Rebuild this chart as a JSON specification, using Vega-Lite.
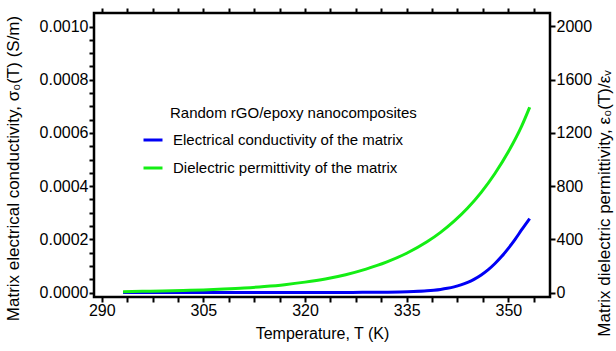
{
  "$schema": "https://vega.github.io/schema/vega-lite/v6.json",
  "width": 456,
  "height": 284,
  "autosize": {"type": "none"},
  "padding": {"left": 94, "right": 66, "top": 13, "bottom": 54},
  "background": "white",
  "config": {
    "font": "Liberation Sans",
    "view": {"stroke": "black", "strokeWidth": 2.5},
    "axis": {
      "domain": false,
      "grid": false,
      "ticks": true,
      "tickSize": 5,
      "tickColor": "black",
      "tickWidth": 2,
      "labelColor": "black",
      "labelFont": "Liberation Sans",
      "labelFontSize": 16,
      "titleFont": "Liberation Sans",
      "titleFontSize": 16,
      "titleFontWeight": "normal",
      "titleColor": "black",
      "labelOverlap": false,
      "labelFlush": false
    },
    "legend": {
      "orient": "none",
      "legendX": 76,
      "legendY": 93,
      "padding": 0,
      "symbolType": "stroke",
      "symbolSize": 361,
      "symbolStrokeWidth": 3,
      "symbolOffset": -28,
      "labelOffset": 9,
      "labelLimit": 0,
      "titleLimit": 0,
      "labelFont": "Liberation Sans",
      "labelFontSize": 15,
      "labelColor": "black",
      "titleFont": "Liberation Sans",
      "titleFontSize": 15,
      "titleFontWeight": "normal",
      "titleColor": "black",
      "titlePadding": 8,
      "rowPadding": 9
    }
  },
  "datasets": {
    "conductivity": [
      {"T": 293.15, "sigma": 0},
      {"T": 300, "sigma": 0},
      {"T": 305, "sigma": 0.00000001},
      {"T": 310, "sigma": 0.00000002},
      {"T": 315, "sigma": 0.00000004},
      {"T": 320, "sigma": 0.00000008},
      {"T": 324, "sigma": 0.00000018},
      {"T": 327, "sigma": 0.00000035},
      {"T": 330, "sigma": 0.0000007},
      {"T": 332, "sigma": 0.0000011},
      {"T": 334, "sigma": 0.0000019},
      {"T": 336, "sigma": 0.0000034},
      {"T": 338, "sigma": 0.0000062},
      {"T": 339, "sigma": 0.0000085},
      {"T": 340, "sigma": 0.0000115},
      {"T": 341, "sigma": 0.0000157},
      {"T": 342, "sigma": 0.0000212},
      {"T": 343, "sigma": 0.0000286},
      {"T": 344, "sigma": 0.0000382},
      {"T": 345, "sigma": 0.0000505},
      {"T": 346, "sigma": 0.000066},
      {"T": 347, "sigma": 0.000085},
      {"T": 348, "sigma": 0.000108},
      {"T": 349, "sigma": 0.000135},
      {"T": 350, "sigma": 0.000166},
      {"T": 351, "sigma": 0.0002},
      {"T": 352, "sigma": 0.000237},
      {"T": 353.15, "sigma": 0.000278}
    ],
    "permittivity": [
      {"T": 293.15, "eps": 6.5},
      {"T": 296, "eps": 8.5},
      {"T": 299, "eps": 11},
      {"T": 302, "eps": 15},
      {"T": 305, "eps": 19.5},
      {"T": 308, "eps": 26},
      {"T": 311, "eps": 34},
      {"T": 314, "eps": 45},
      {"T": 317, "eps": 59},
      {"T": 320, "eps": 78},
      {"T": 323, "eps": 102},
      {"T": 326, "eps": 134},
      {"T": 329, "eps": 176},
      {"T": 332, "eps": 228},
      {"T": 335, "eps": 295},
      {"T": 338, "eps": 381},
      {"T": 340, "eps": 452},
      {"T": 342, "eps": 536},
      {"T": 344, "eps": 635},
      {"T": 346, "eps": 753},
      {"T": 348, "eps": 893},
      {"T": 350, "eps": 1058},
      {"T": 352, "eps": 1255},
      {"T": 353.15, "eps": 1393}
    ]
  },
  "layer": [
    {
      "data": {"name": "conductivity"},
      "mark": {"type": "line", "strokeWidth": 3, "interpolate": "monotone"},
      "encoding": {
        "x": {
          "field": "T", "type": "quantitative",
          "scale": {"domain": [288.86, 356.15], "nice": false, "zero": false},
          "axis": {
            "orient": "bottom",
            "title": "Temperature, T (K)",
            "values": [290, 293.75, 297.5, 301.25, 305, 308.75, 312.5, 316.25, 320, 323.75, 327.5, 331.25, 335, 338.75, 342.5, 346.25, 350, 353.75],
            "labelExpr": "datum.value % 15 === 5 ? datum.label : ''",
            "labelPadding": 0,
            "titlePadding": 7,
            "encode": {"ticks": {"update": {"y2": {"signal": "datum.value % 15 === 5 ? -5 : -3"}}}}
          }
        },
        "y": {
          "field": "sigma", "type": "quantitative",
          "scale": {"domain": [-0.0000169, 0.0010508], "nice": false, "zero": false},
          "axis": {
            "orient": "left",
            "title": "Matrix electrical conductivity, σ₀(T) (S/m)",
            "titleFontSize": 17,
            "titleY": 155,
            "values": [0, 0.00005, 0.0001, 0.00015, 0.0002, 0.00025, 0.0003, 0.00035, 0.0004, 0.00045, 0.0005, 0.00055, 0.0006, 0.00065, 0.0007, 0.00075, 0.0008, 0.00085, 0.0009, 0.00095, 0.001],
            "format": ".4f",
            "labelExpr": "round(datum.value * 100000) % 20 === 0 ? datum.label : ''",
            "labelPadding": 1,
            "titlePadding": 17,
            "encode": {"ticks": {"update": {"x2": {"signal": "round(datum.value * 100000) % 20 === 0 ? 5 : 3"}}}}
          }
        },
        "color": {
          "datum": "Electrical conductivity of the matrix",
          "type": "nominal",
          "scale": {
            "domain": ["Electrical conductivity of the matrix", "Dielectric permittivity of the matrix"],
            "range": ["#0000f5", "#14ee14"]
          },
          "legend": {"title": "Random rGO/epoxy nanocomposites"}
        }
      }
    },
    {
      "data": {"name": "permittivity"},
      "mark": {"type": "line", "strokeWidth": 3, "interpolate": "monotone"},
      "encoding": {
        "x": {
          "field": "T", "type": "quantitative",
          "scale": {"domain": [288.86, 356.15], "nice": false, "zero": false},
          "axis": {
            "orient": "top",
            "title": null,
            "labels": false,
            "values": [290, 293.75, 297.5, 301.25, 305, 308.75, 312.5, 316.25, 320, 323.75, 327.5, 331.25, 335, 338.75, 342.5, 346.25, 350, 353.75],
            "encode": {"ticks": {"update": {"y2": {"signal": "datum.value % 15 === 5 ? 5 : 3"}}}}
          }
        },
        "y": {
          "field": "eps", "type": "quantitative",
          "scale": {"domain": [-33.8, 2101.5], "nice": false, "zero": false},
          "axis": {
            "orient": "right",
            "title": "Matrix dielectric permittivity, ε₀(T)/εᵥ",
            "titleAngle": 270,
            "titleFontSize": 17,
            "titleY": 190,
            "values": [0, 400, 800, 1200, 1600, 2000],
            "format": "d",
            "labelPadding": 1,
            "titlePadding": 22,
            "encode": {"ticks": {"update": {"x2": {"value": -5}}}}
          }
        },
        "color": {
          "datum": "Dielectric permittivity of the matrix",
          "type": "nominal"
        }
      }
    }
  ],
  "resolve": {"scale": {"y": "independent"}, "axis": {"x": "independent"}}
}
